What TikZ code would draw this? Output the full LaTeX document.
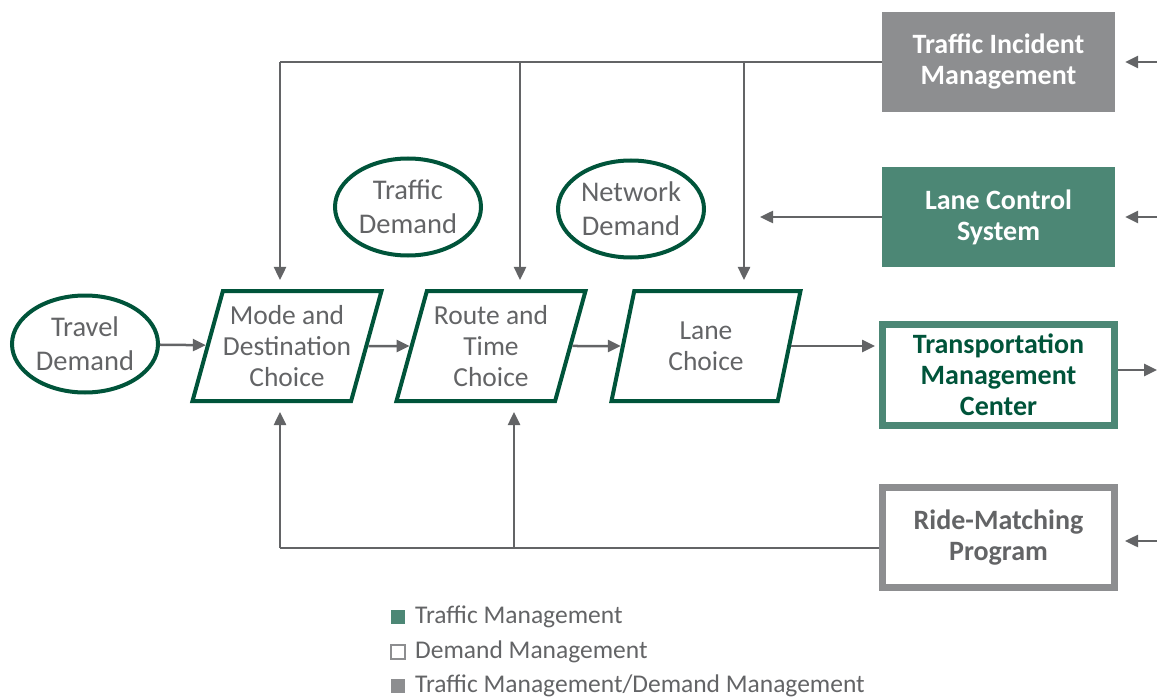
\documentclass[tikz,border=0pt]{standalone}
\usepackage{fontspec}
\setmainfont{Carlito}
\usetikzlibrary{shapes.geometric,arrows.meta,positioning}

\definecolor{dkgreen}{HTML}{00543A}
\definecolor{tmgreen}{HTML}{4C8775}
\definecolor{boxgray}{HTML}{8D8E90}
\definecolor{linegray}{HTML}{636466}

\tikzset{
  wire/.style={draw=linegray,line width=2.5pt},
  arr/.style={wire,-{Triangle[length=13pt,width=12pt]}},
  demand/.style={ellipse,draw=dkgreen,line width=4pt,minimum width=146pt,minimum height=97pt,
    inner sep=0pt,align=center,text=linegray,font=\fontsize{28.5}{34}\selectfont},
  choice/.style={trapezium,trapezium left angle=#1,trapezium right angle={180-#1},
    trapezium stretches body,draw=dkgreen,line width=4pt,minimum width=189pt,
    minimum height=110pt,inner sep=0pt,align=center,text=linegray,
    font=\fontsize{27.5}{31}\selectfont},
  choice/.default=69.5,
  measure/.style={rectangle,minimum width=233pt,minimum height=100pt,inner sep=0pt,align=center,
    font=\bfseries\fontsize{28}{31}\selectfont},
  legbox/.style={rectangle,minimum size=14pt,inner sep=0pt,line width=2pt},
  legtext/.style={inner sep=0pt,anchor=west,text=linegray,font=\fontsize{25.5}{28}\selectfont}
}

\begin{document}
\begin{tikzpicture}[x=1pt,y=-1pt]
	\useasboundingbox (0,0) rectangle (1157,698);
	% demand ellipses
	\node[demand] (travel) at (85,344) {Travel\\Demand};
	\node[demand] (trafdem) at (408,207) {Traffic\\Demand};
	\node[demand] (netdem) at (631,209) {Network\\Demand};
	% choices
	\node[choice] (mode) at (287,346) {Mode and\\Destination\\Choice};
	\node[choice] (route) at (491,346) {Route and\\Time\\Choice};
	\node[choice=65] (lane) at (706,346) {Lane\\Choice};
	% measures
	\node[measure,fill=boxgray,text=white] (tim) at (998.5,62) {Traffic Incident\\Management};
	\node[measure,fill=tmgreen,text=white] (lcs) at (998.5,217) {Lane Control\\System};
	\node[measure,draw=tmgreen,line width=7pt,minimum width=232pt,minimum height=101pt,
	  text=dkgreen] (tmc) at (998.5,375) {Transportation\\Management\\Center};
	\node[measure,draw=boxgray,line width=7pt,minimum width=232pt,minimum height=100pt,
	  text=linegray] (ride) at (998.5,537.5) {Ride-Matching\\Program};
	% chain
	\draw[arr] (travel) -- (mode);
	\draw[arr] (mode) -- (route);
	\draw[arr] (route) -- (lane);
	\draw[arr,shorten >=4pt] (lane.east) -- (lane.east -| tmc.west);
	% incident feedback from above
	\coordinate (dropA) at (280,62);
	\coordinate (dropB) at (520,62);
	\coordinate (dropC) at (744,62);
	\draw[wire] (tim.west) -- (dropA);
	\draw[arr,shorten >=9pt] (dropA) -- (dropA |- mode.north);
	\draw[arr,shorten >=9pt] (dropB) -- (dropB |- route.north);
	\draw[arr,shorten >=9pt] (dropC) -- (dropC |- lane.north);
	% lane control
	\coordinate (lcsend) at (760,217);
	\draw[arr] (lcs.west) -- (lcsend);
	% ride matching from below
	\coordinate (riseA) at (280,548);
	\coordinate (riseB) at (514,548);
	\draw[wire] (ride.west |- riseA) -- (riseA);
	\draw[arr,shorten >=9pt] (riseA) -- (riseA |- mode.south);
	\draw[arr,shorten >=9pt] (riseB) -- (riseB |- route.south);
	% right edge
	\coordinate (rimA) at (1157,62);
	\coordinate (rimB) at (1157,217);
	\coordinate (rimC) at (1157,370);
	\coordinate (rimD) at (1157,541);
	\draw[arr,shorten >=10pt] (rimA) -- (tim.east);
	\draw[arr,shorten >=10pt] (rimB) -- (lcs.east);
	\draw[arr] (tmc.east |- rimC) -- (rimC);
	\draw[arr,shorten >=7pt] (rimD) -- (ride.east |- rimD);
	% legend
	\node[legbox,fill=tmgreen] (keyA) at (398,617) {};
	\node[legtext,right=9pt of keyA] (labA) {Traffic Management};
	\node[legbox,draw=boxgray,fill=white] (keyB) at (398,652) {};
	\node[legtext,right=9pt of keyB] (labB) {Demand Management};
	\node[legbox,fill=boxgray] (keyC) at (398,686) {};
	\node[legtext,right=9pt of keyC] (labC) {Traffic Management/Demand Management};
\end{tikzpicture}
\end{document}
